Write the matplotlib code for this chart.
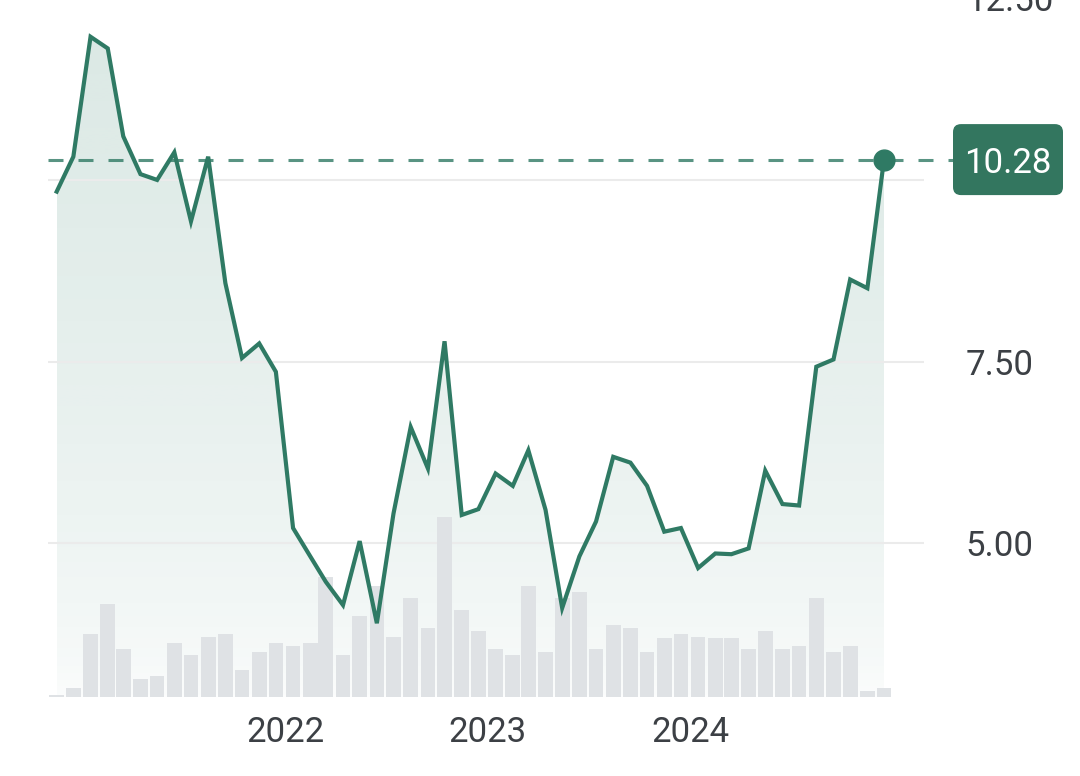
import numpy as np
import pandas as pd
import matplotlib
matplotlib.use("Agg")
import matplotlib.pyplot as plt
from matplotlib.patches import FancyBboxPatch
from matplotlib.transforms import IdentityTransform, blended_transform_factory
import matplotlib.dates as mdates

plt.rcParams['font.family'] = ['Roboto', 'DejaVu Sans']
plt.rcParams['lines.scale_dashes'] = False

# ---------------- data ----------------
dates = pd.date_range('2020-11-01', periods=50, freq='MS') + pd.Timedelta(days=14)

price = [9.84, 10.32, 11.97, 11.81, 10.60, 10.08, 10.00, 10.38, 9.43, 10.32,
         8.58, 7.55, 7.75, 7.36, 5.21, 4.82, 4.47, 4.15, 5.03, 3.90,
         5.41, 6.60, 6.03, 7.78, 5.39, 5.47, 5.96, 5.79, 6.28, 5.46,
         4.11, 4.82, 5.30, 6.19, 6.11, 5.79, 5.16, 5.21, 4.66, 4.86,
         4.85, 4.93, 6.00, 5.54, 5.52, 7.43, 7.53, 8.63, 8.51, 10.28]

volume = [0.2, 0.9, 6.3, 9.3, 4.8, 1.8, 2.1, 5.4, 4.2, 6.0,
          6.3, 2.7, 4.5, 5.4, 5.1, 5.4, 12.0, 4.2, 8.1, 11.1,
          6.0, 9.9, 6.9, 18.0, 8.7, 6.6, 4.8, 4.2, 11.1, 4.5,
          9.9, 10.5, 4.8, 7.2, 6.9, 4.5, 5.9, 6.3, 6.0, 5.9,
          5.9, 4.8, 6.6, 4.8, 5.1, 9.9, 4.5, 5.1, 0.6, 0.9]

year_labels = ['2022', '2023', '2024']
price_ticks = [5.0, 7.5, 10.0, 12.5]
last_price = price[-1]

# ---------------- style ----------------
GREEN = '#2f7a64'
TXT = '#3c4045'
W, H = 1080, 776

fig = plt.figure(figsize=(W / 100, H / 100), dpi=100)
fig.patch.set_facecolor('white')

ax_left, ax_right, ax_bottom_px, ax_top_px = 48, 924, 697, -5
ax = fig.add_axes([ax_left / W, (H - ax_bottom_px) / H,
                   (ax_right - ax_left) / W, (ax_bottom_px - ax_top_px) / H])

px_per_day = 16.89 / 30.44
xlim = (dates[0] - pd.Timedelta(days=8.7 / px_per_day),
        dates[0] + pd.Timedelta(days=(ax_right - ax_left - 8.7) / px_per_day))
ylim = (2.885, 12.545)

# gradient area under the line
poly = ax.fill_between(dates, price, ylim[0], color='none', lw=0)
n = 256
t = np.linspace(0, 1, n)[:, None]
alpha = 0.015 + 0.155 * t ** 0.6
rgb = np.array([46, 125, 103]) / 255
grad = np.zeros((n, 1, 4))
grad[..., :3] = rgb
grad[..., 3] = alpha
x0n, x1n = mdates.date2num(dates[0]), mdates.date2num(dates[-1])
im = ax.imshow(grad, extent=[x0n, x1n, ylim[0], max(price)], aspect='auto',
               origin='lower', zorder=1, interpolation='bilinear')
im.set_clip_path(poly.get_paths()[0], transform=ax.transData)

for s in ax.spines.values():
    s.set_visible(False)

# volume bars on a twin axis
axv = ax.twinx()
axv.bar(dates, volume, width=26.5, color='#dfe2e5', lw=0, zorder=2)
axv.set_ylim(0, (ax_bottom_px - ax_top_px) / 10)
axv.set_yticks([])
axv.tick_params(axis='y', right=False, left=False, labelright=False, labelleft=False)
for s in axv.spines.values():
    s.set_visible(False)

# price axis ticks (after twinx, which moves them to the left)
ax.set_xlim(xlim)
ax.set_ylim(ylim)
ax.set_yticks(price_ticks)
ax.set_yticklabels([f'{v:.2f}' for v in price_ticks])
ax.yaxis.tick_right()
ax.grid(axis='y', color='#ebebeb', lw=1.5)
ax.grid(axis='x', visible=False)
year_pos = pd.to_datetime([f'{y}-01-01' for y in year_labels])
ax.set_xticks(year_pos)
ax.set_xticklabels(year_labels)
ax.tick_params(axis='y', length=0, pad=30, labelsize=25, labelcolor=TXT,
               left=False, labelleft=False, right=False, labelright=True)
ax.tick_params(axis='x', length=0, pad=14, labelsize=25, labelcolor=TXT)

# price line over the bars
axv.plot(dates, price, color=GREEN, lw=3.0, transform=ax.transData,
         solid_joinstyle='miter', zorder=4)
blend = blended_transform_factory(axv.transAxes, ax.transData)
axv.plot([0, (953 - ax_left) / (ax_right - ax_left)], [last_price, last_price],
         color=GREEN, alpha=0.8, lw=2.2, dashes=(10.8, 10.8),
         transform=blend, clip_on=False, zorder=3)
axv.plot([dates[-1]], [last_price], 'o', color=GREEN, ms=15,
         transform=ax.transData, zorder=5, clip_on=False)
axv.set_xlim(xlim)
axv.set_ylim(0, (ax_bottom_px - ax_top_px) / 10)
ax.set_xlim(xlim)
ax.set_ylim(ylim)

# price label box
yc = ax.transData.transform((mdates.date2num(dates[-1]), last_price))[1]
bw, bh, bx = 110, 71, 953
box = FancyBboxPatch((bx, yc - bh / 2), bw, bh,
                     boxstyle='round,pad=0,rounding_size=8',
                     transform=IdentityTransform(), color='#33765f',
                     lw=0, zorder=10)
fig.patches.append(box)
fig.text(bx + bw / 2, yc, f'{last_price:.2f}', transform=IdentityTransform(),
         ha='center', va='center_baseline', color='white', fontsize=25,
         zorder=11)

fig.savefig('out.png', dpi=100, facecolor='white')
